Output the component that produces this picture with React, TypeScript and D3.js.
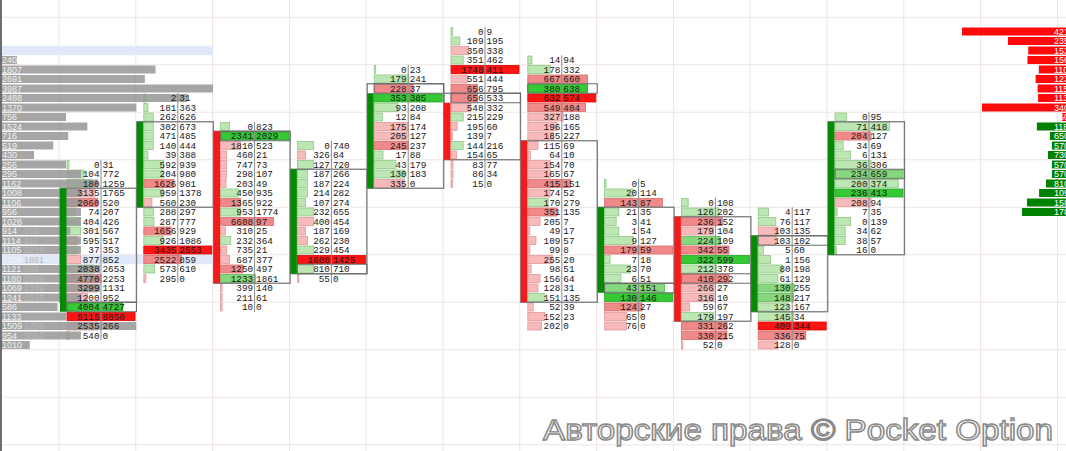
import React from "react";
import * as d3 from "d3";

// ---------- DATA ----------
// Footprint rows per candle: [bid, ask, barDelta(-100..100), level(0 light,1 medium,2 strong)]
const c1Rows = [
  [0, 31, 3, 0], [104, 772, 25, 0], [180, 1259, 35, 0], [3135, 1765, -40, 0], [2060, 520, -45, 1],
  [74, 207, 12, 0], [404, 426, 20, 0], [301, 567, 20, 0], [595, 517, -15, 0], [37, 353, 15, 0],
  [877, 852, -20, 0], [2038, 2653, 40, 0], [4770, 2253, -50, 1], [3299, 1131, -45, 0], [1200, 952, -30, 0],
  [4004, 4727, 82, 2], [5115, 8850, -100, 2], [2535, 266, -45, 0], [540, 0, -3, 0],
];
const c2Rows = [
  [2, 31, 3, 0], [181, 363, 6, 0], [262, 626, 14, 0], [302, 673, 14, 0], [471, 485, 14, 0],
  [140, 444, 14, 0], [39, 388, 6, 0], [592, 939, 29, 0], [204, 980, 29, 0], [1626, 981, -44, 1],
  [959, 1378, 29, 0], [560, 230, -12, 0], [288, 297, 14, 0], [287, 777, 15, 0], [1656, 929, -40, 1],
  [926, 1086, 29, 0], [3435, 2553, -100, 2], [2522, 859, -55, 1], [573, 610, 16, 0], [295, 0, -3, 0],
];
const c3Rows = [
  [0, 823, 13, 0], [2341, 2029, 100, 2], [1810, 523, -29, 0], [460, 21, -9, 0], [747, 73, -9, 0],
  [298, 107, -9, 0], [203, 49, -8, 0], [450, 935, 26, 0], [1365, 922, -29, 1], [953, 1774, 29, 0],
  [6608, 97, -78, 1], [310, 25, -7, 0], [232, 364, 15, 0], [735, 21, -9, 0], [687, 377, -13, 0],
  [1250, 497, -33, 1], [1233, 1861, 51, 1], [399, 140, -2, 0], [211, 61, -2, 0], [10, 0, -1, 0],
];
const c4Rows = [
  [0, 740, 24, 0], [326, 84, -12, 0], [127, 720, 24, 0], [187, 266, 15, 0], [187, 224, 15, 0],
  [214, 282, 15, 0], [107, 274, 12, 0], [232, 655, 24, 0], [400, 454, -24, 0], [187, 169, -12, 0],
  [262, 230, -15, 0], [229, 454, 24, 0], [1608, 1425, -100, 2], [810, 710, 24, 0], [55, 0, -2, 0],
];
const c5Rows = [
  [0, 23, 2, 0], [179, 241, 51, 0], [228, 37, -57, 1], [353, 385, 100, 2], [93, 208, 35, 0],
  [12, 84, 12, 0], [175, 174, -50, 0], [205, 127, -48, 0], [245, 237, -50, 1], [17, 88, 13, 0],
  [43, 179, 32, 0], [130, 183, 45, 0], [335, 0, -44, 0],
];
const c6Rows = [
  [0, 9, 1, 0], [109, 195, 13, 0], [350, 338, -26, 0], [351, 462, 18, 0], [1748, 411, -100, 2],
  [551, 444, -24, 0], [656, 795, -39, 1], [656, 533, -39, 1], [548, 332, -29, 0], [215, 229, 18, 0],
  [195, 60, -9, 0], [139, 7, -2, 0], [144, 216, 18, 0], [154, 65, -8, 0], [83, 77, -3, 0],
  [86, 34, -3, 0], [15, 0, -1, 0],
];
const c7Rows = [
  [14, 94, 6, 0], [178, 332, 33, 0], [667, 660, -88, 1], [380, 638, 88, 2], [632, 574, -100, 2],
  [549, 404, -85, 1], [327, 188, -52, 0], [196, 165, -43, 0], [185, 227, -38, 0], [115, 69, -15, 0],
  [64, 10, -4, 0], [154, 70, -33, 0], [165, 67, -33, 0], [415, 151, -63, 1], [174, 52, -33, 0],
  [170, 279, 30, 0], [351, 135, -43, 1], [205, 7, -18, 0], [49, 17, -3, 0], [109, 57, -12, 0],
  [99, 8, -3, 0], [255, 20, -36, 0], [98, 51, -5, 0], [156, 64, -18, 0], [128, 31, -15, 0],
  [151, 135, 25, 0], [52, 39, -8, 0], [152, 23, -25, 0], [202, 0, -20, 0],
];
const c8Rows = [
  [0, 5, 1, 0], [20, 114, 42, 0], [143, 87, -85, 1], [21, 35, 21, 0], [3, 41, 17, 0],
  [1, 54, 21, 0], [9, 127, 42, 0], [179, 59, -100, 1], [7, 18, 8, 0], [23, 70, 38, 0],
  [6, 51, 24, 0], [43, 151, 88, 1], [130, 146, 100, 2], [124, 27, -55, 1], [65, 0, -32, 0],
  [76, 0, -32, 0],
];
const c9Rows = [
  [0, 108, 10, 0], [126, 202, 55, 0], [236, 152, -60, 1], [179, 104, -47, 0], [224, 109, 57, 1],
  [342, 55, -70, 1], [322, 599, 100, 2], [212, 378, 52, 0], [410, 292, -70, 1], [266, 27, -48, 0],
  [316, 10, -48, 0], [59, 67, -12, 0], [179, 197, 47, 0], [331, 262, -67, 1], [330, 215, -67, 1],
  [52, 0, -2, 0],
];
const c10Rows = [
  [4, 117, 15, 0], [76, 117, 26, 0], [103, 135, -29, 0], [103, 102, -26, 0], [5, 60, 8, 0],
  [1, 156, 18, 0], [80, 198, 36, 0], [61, 129, 29, 0], [130, 255, 53, 1], [148, 217, 52, 1],
  [123, 167, 44, 0], [145, 34, 52, 0], [409, 344, -100, 2], [336, 75, -70, 1], [128, 0, -29, 0],
];
const c11Rows = [
  [0, 95, 17, 0], [71, 418, 80, 0], [204, 127, -53, 1], [34, 69, 12, 0], [6, 131, 23, 0],
  [36, 306, 53, 0], [234, 659, 100, 1], [200, 374, 93, 0], [236, 413, 100, 2], [208, 94, -53, 0],
  [7, 35, 3, 0], [0, 139, 23, 0], [34, 62, 15, 0], [38, 57, 15, 0], [16, 0, 1, 0],
];
const candleRows = [c1Rows, c2Rows, c3Rows, c4Rows, c5Rows, c6Rows, c7Rows, c8Rows, c9Rows, c10Rows, c11Rows];
// price-row index of each candle's first row
const candleStart = [11, 4, 7, 9, 1, -3, 0, 13, 15, 16, 6];
// body (open..close) row ranges, thick candle bar ranges, direction, highlighted row
const candleBody = [[14, 25], [7, 15], [8, 23], [12, 22], [3, 13], [4, 10], [9, 25], [16, 23], [17, 27], [19, 26], [7, 20]];
const candleThick = [[14, 26], [7, 15], [8, 23], [12, 22], [4, 13], [5, 10], [9, 25], [16, 24], [17, 27], [19, 26], [7, 20]];
const candleUp = [true, true, false, true, true, false, false, true, false, true, true];
const candleBoxed = [26, -99, 8, 22, 3, 4, 3, 24, 23, 19, 12];

// Left volume profile (rows 0..30)
const profileVol = [8, 73, 68, 100, 88, 64, 31, 41, 32, 25, 16, 31, 38, 46, 38, 38, 38, 38, 33, 38, 38, 0, 47, 46, 47, 38, 27, 31, 64, 38, 14];
const profileLabel = ["240", "1807", "2691", "3987", "2488", "1370", "756", "1524", "716", "519", "430", "256", "295", "1162", "1008", "1106", "956", "1028", "914", "1114", "1105", "1208", "1121", "1180", "1069", "1241", "586", "1133", "1509", "954", "1010"];
const profileLabel2 = ["", "", "", "", "", "", "", "", "", "", "", "", "", "", "", "", "", "", "955", "911", "2218", "1861", "988", "5556", "2339", "2535", "", "", "1256", "5052", ""];
const profileHighlightRows = [-1, 21];

// Right delta profile, rows -3..16
const rightStart = -3;
const rightDelta = [-4210, -2350, -1530, -1560, -1100, -1230, -1150, -1130, -3400, -160, 1180, 650, 570, 730, 570, 570, 810, 1090, 1580, 1780];

const watermark = "Авторские права © Pocket Option";

// ---------- COLOURS ----------
const GREEN_FILL = ["#bce7b3", "#86d77e", "#36c936"];
const GREEN_EDGE = ["#8fc887", "#5db855", "#22a822"];
const RED_FILL = ["#f7baba", "#f08a8a", "#ff1414"];
const RED_EDGE = ["#e39a9a", "#d96a6a", "#e00000"];

export default function App() {
  const W = 1066;
  const H = 451;
  const rowH = 9.5;
  const y = d3.scaleLinear().domain([0, 1]).range([60, 60 + rowH]);
  const xc = d3.scaleLinear().domain([0, 1]).range([60, 136.8]);
  const bw = d3.scaleLinear().domain([0, 100]).range([0, 68]);
  const px = d3.scaleLinear().domain([0, 100]).range([0, 213]);
  const rx = d3.scaleLinear().domain([0, 4210]).range([0, 104]);

  const colW = 76.5;
  const barOff = 7;
  const sepOff = 41;
  const barH = 8;

  const gridX = d3.range(0, 14).map((i) => xc(i) - 1);
  const gridY = d3.range(-1, 9).map((k) => y(5 * k) + rowH / 2);

  const font = "'Liberation Mono', 'DejaVu Sans Mono', monospace";

  return (
    <svg
      width={W}
      height={H}
      viewBox={`0 0 ${W} ${H}`}
      style={{ position: "fixed", left: 0, top: 0, background: "#fff", display: "block" }}
    >
      <rect x={0} y={0} width={W} height={H} fill="#fff" />
      {/* grid */}
      {gridX.map((gx, i) => (
        <line key={"gx" + i} x1={gx} x2={gx} y1={0} y2={H} stroke="#efe3e3" strokeWidth={1} />
      ))}
      {gridY.map((gy, i) => (
        <line key={"gy" + i} x1={0} x2={W} y1={gy} y2={gy} stroke="#efe3e3" strokeWidth={1} />
      ))}

      {/* light blue highlight rows of the profile */}
      {profileHighlightRows.map((r) => (
        <rect key={"hl" + r} x={0} y={y(r) - rowH / 2} width={213} height={rowH} fill="#dfe9f9" />
      ))}

      {/* footprint bars */}
      {candleRows.map((rows, ci) => {
        const L = xc(ci);
        return (
          <g key={"bars" + ci}>
            {rows.map((row, k) => {
              const r = candleStart[ci] + k;
              const v = row[2];
              const lvl = row[3];
              const up = v >= 0;
              const w = Math.max(1.5, bw(Math.abs(v)));
              return (
                <rect
                  key={k}
                  x={L + barOff}
                  y={y(r) - barH / 2}
                  width={w}
                  height={barH}
                  fill={up ? GREEN_FILL[lvl] : RED_FILL[lvl]}
                  stroke={up ? GREEN_EDGE[lvl] : RED_EDGE[lvl]}
                  strokeWidth={0.8}
                />
              );
            })}
          </g>
        );
      })}

      {/* left profile */}
      {profileVol.map((v, r) =>
        v > 0 ? (
          <rect key={"pv" + r} x={0} y={y(r) - barH / 2} width={px(v)} height={barH} fill="#9a9a9a" opacity={0.88} />
        ) : null
      )}
      {profileLabel.map((t, r) => (
        <text key={"pl" + r} x={2} y={y(r)} dy="0.35em" fontFamily="'Liberation Sans', Arial, sans-serif" fontSize={9} fill="#f2f2f2">
          {t}
        </text>
      ))}
      {profileLabel2.map((t, r) =>
        t ? (
          <text key={"pl2" + r} x={24} y={y(r)} dy="0.35em" fontFamily="'Liberation Sans', Arial, sans-serif" fontSize={9} fill="#b8b8b8">
            {t}
          </text>
        ) : null
      )}

      {/* candle bodies, thick bars, boxed rows */}
      {candleRows.map((rows, ci) => {
        const L = xc(ci);
        const [b0, b1] = candleBody[ci];
        const [t0, t1] = candleThick[ci];
        const br = candleBoxed[ci];
        const first = candleStart[ci];
        const last = first + rows.length - 1;
        return (
          <g key={"body" + ci}>
            <rect
              x={L}
              y={y(b0) - rowH / 2}
              width={colW}
              height={y(b1) - y(b0) + rowH}
              fill="none"
              stroke="#7a7a7a"
              strokeWidth={1.3}
            />
            {br > -99 ? (
              <rect
                x={L + barOff}
                y={y(br) - rowH / 2}
                width={colW - barOff}
                height={rowH}
                fill="none"
                stroke="#6a6a6a"
                strokeWidth={1}
              />
            ) : null}
            <rect
              x={L}
              y={y(t0) - rowH / 2}
              width={6.5}
              height={y(t1) - y(t0) + rowH}
              fill={candleUp[ci] ? "#058a05" : "#f21a1a"}
            />
            <line
              x1={L + sepOff}
              x2={L + sepOff}
              y1={y(first) - rowH / 2}
              y2={y(last) + rowH / 2}
              stroke="#8a8a8a"
              strokeWidth={1}
            />
          </g>
        );
      })}

      {/* footprint numbers */}
      {candleRows.map((rows, ci) => {
        const L = xc(ci);
        return (
          <g key={"txt" + ci} fontFamily={font} fontSize={9.3} fill="#181818">
            {rows.map((row, k) => {
              const r = candleStart[ci] + k;
              return (
                <g key={k}>
                  <text x={L + sepOff - 1.5} y={y(r)} dy="0.36em" textAnchor="end">
                    {row[0]}
                  </text>
                  <text x={L + sepOff + 1.5} y={y(r)} dy="0.36em">
                    {row[1]}
                  </text>
                </g>
              );
            })}
          </g>
        );
      })}

      {/* right delta profile */}
      {rightDelta.map((v, k) => {
        const r = rightStart + k;
        const w = rx(Math.abs(v));
        return (
          <g key={"rd" + k}>
            <rect x={W - w} y={y(r) - barH / 2} width={w} height={barH} fill={v < 0 ? "#ff0a0a" : "#008200"} />
            <text x={1054} y={y(r)} dy="0.35em" fontFamily="'Liberation Sans', Arial, sans-serif" fontSize={9} fill="#ffffff">
              {Math.abs(v)}
            </text>
          </g>
        );
      })}

      {/* left axis edge */}
      <line x1={1} x2={1} y1={0} y2={H} stroke="#6e6e6e" strokeWidth={2} />

      {/* watermark */}
      <text
        x={543}
        y={440}
        fontFamily="'Liberation Sans', Arial, sans-serif"
        fontSize={29}
        fill="#ffffff"
        stroke="#8a8a8a"
        strokeWidth={1.4}
        textLength={510}
        lengthAdjust="spacingAndGlyphs"
      >
        {watermark}
      </text>
    </svg>
  );
}
